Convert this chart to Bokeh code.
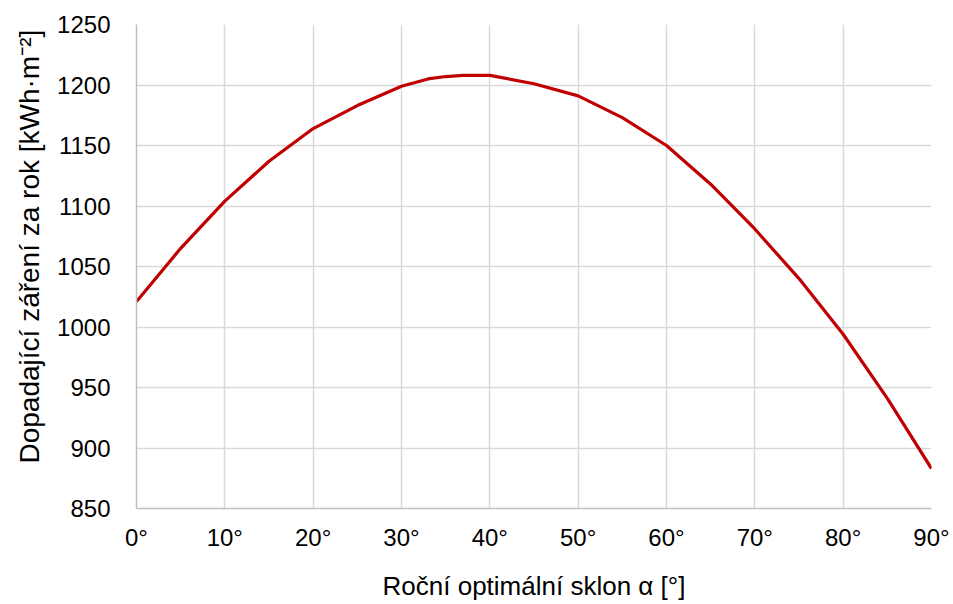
from bokeh.plotting import figure
from bokeh.models import Range1d, FixedTicker, Title
from bokeh.embed import file_html
from bokeh.resources import INLINE

# Data
tilt_deg = [0, 5, 10, 15, 20, 25, 30, 33, 35, 37, 40, 45, 50, 55, 60, 65, 70, 75, 80, 85, 90]
irradiation = [1021, 1065, 1104, 1137, 1164, 1183, 1199, 1205, 1207, 1208, 1208, 1201, 1191, 1173,
               1150, 1118, 1081, 1040, 994, 941, 883]

x_ticks = [0, 10, 20, 30, 40, 50, 60, 70, 80, 90]
x_tick_labels = ["0°", "10°", "20°", "30°", "40°", "50°", "60°", "70°", "80°", "90°"]
y_ticks = [850, 900, 950, 1000, 1050, 1100, 1150, 1200, 1250]

x_title = "Roční optimální sklon α [°]"
y_title = "Dopadající záření za rok [kWh·m⁻²]"

FONT = "Liberation Sans"

p = figure(
    frame_width=795, frame_height=484,
    min_border_left=136, min_border_right=22, min_border_top=24, min_border_bottom=96,
    x_range=Range1d(0, 90), y_range=Range1d(850, 1250),
    output_backend="svg", toolbar_location=None,
)
p.outline_line_color = None
p.background_fill_color = "white"
p.border_fill_color = "white"

p.line(tilt_deg, irradiation, line_color="#c00000", line_width=3.2, line_join="round")

p.xaxis.ticker = FixedTicker(ticks=x_ticks)
p.xaxis.major_label_overrides = {t: l for t, l in zip(x_ticks, x_tick_labels)}
p.yaxis.ticker = FixedTicker(ticks=y_ticks)
p.xgrid.ticker = FixedTicker(ticks=x_ticks)
p.ygrid.ticker = FixedTicker(ticks=y_ticks)

for g in (p.xgrid, p.ygrid):
    g.grid_line_color = "#d9d9d9"
    g.grid_line_width = 1.5

for ax in (p.xaxis, p.yaxis):
    ax.axis_line_color = "#bfbfbf"
    ax.axis_line_width = 1.5
    ax.major_tick_line_color = None
    ax.minor_tick_line_color = None
    ax.major_tick_out = 0
    ax.major_tick_in = 0
    ax.minor_tick_out = 0
    ax.minor_tick_in = 0
    ax.major_label_text_font = FONT
    ax.major_label_text_font_size = "24px"
    ax.major_label_text_color = "#000000"
    ax.axis_label_text_font = FONT
    ax.axis_label_text_font_style = "normal"
    ax.axis_label_text_color = "#000000"

p.xaxis.axis_label = x_title
p.xaxis.axis_label_text_font_size = "26px"
p.xaxis.major_label_standoff = 15
p.xaxis.axis_label_standoff = 17
p.yaxis.major_label_standoff = 26

y_title_obj = Title(text=y_title, align="left", offset=45, standoff=20,
                    text_font=FONT, text_font_size="28px", text_font_style="normal",
                    text_color="#000000")
p.add_layout(y_title_obj, "left")

open("out.html", "w").write(file_html(p, INLINE))
